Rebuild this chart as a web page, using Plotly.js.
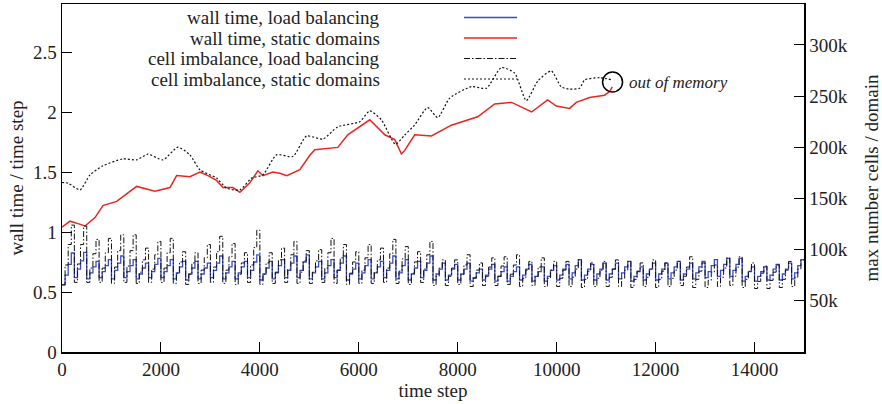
<!DOCTYPE html>
<html>
<head>
<meta charset="utf-8">
<script src="https://cdn.plot.ly/plotly-3.0.1.min.js"></script>
<style>html,body{margin:0;padding:0;background:#fff;}#chart{width:882px;height:404px;}</style>
</head>
<body>
<div id="chart"></div>
<script>
// ---------- data ----------
const seriesNames = [
  'wall time, load balancing',
  'wall time, static domains',
  'cell imbalance, load balancing',
  'cell imbalance, static domains'
];

// wall time, static domains (left axis)
const staticWallX = [0,162,323,465,667,828,1105,1293,1509,1879,2182,2317,2586,2788,2949,3125,3252,3454,3596,3798,3959,4060,4262,4404,4545,4808,5010,5111,5575,5777,6222,6525,6727,6862,6929,7131,7468,7872,8403,8747,9090,9494,9817,9993,10262,10397,10666,10969,11070,11124];
const staticWallY = [1.04,1.09,1.07,1.05,1.12,1.22,1.255,1.31,1.38,1.34,1.37,1.47,1.46,1.50,1.47,1.43,1.37,1.37,1.33,1.41,1.51,1.47,1.50,1.49,1.47,1.52,1.64,1.686,1.705,1.81,1.935,1.81,1.77,1.65,1.68,1.81,1.80,1.89,1.96,2.067,2.08,2.00,2.10,2.05,2.03,2.08,2.12,2.14,2.17,2.21];

// cell imbalance, static domains (right axis, thousands of cells)
const staticCellX = [0,121,364,566,828,1232,1509,1737,2040,2343,2586,2788,3125,3327,3596,3832,4060,4337,4666,4943,5272,5575,6020,6222,6458,6741,6929,7131,7393,7595,7838,8276,8579,8882,9151,9387,9621,9892,10093,10262,10464,10565,10868,11130];
const staticCellY = [165.6,165,158.4,173,181.9,188.7,187.7,193.3,187.7,200.1,192.6,178,169.9,160.1,158.4,169.9,173,192.6,191,211,208,220,225,235.6,226.8,203,212,222,238.8,229,248,259.3,257.7,277.9,272.4,245.6,264.9,274.6,259,256.8,257.7,265.8,268,265.8];

// load balancing: one row per 250-step balancing period, four stair levels each
const balancePeriod = 250;
const lbWall = [
  [0.56,0.64,0.73,0.825],[0.62,0.69,0.76,0.83],[0.61,0.66,0.71,0.755],[0.62,0.67,0.72,0.77],
  [0.61,0.68,0.74,0.80],[0.62,0.67,0.72,0.77],[0.61,0.65,0.70,0.74],[0.62,0.67,0.73,0.78],
  [0.62,0.67,0.72,0.77],[0.61,0.66,0.71,0.755],[0.60,0.65,0.70,0.755],[0.61,0.65,0.70,0.74],
  [0.62,0.68,0.74,0.80],[0.61,0.66,0.71,0.755],[0.61,0.66,0.71,0.755],[0.62,0.68,0.75,0.81],
  [0.60,0.65,0.70,0.755],[0.61,0.66,0.72,0.77],[0.62,0.68,0.74,0.80],[0.62,0.68,0.75,0.81],
  [0.61,0.66,0.71,0.755],[0.61,0.66,0.72,0.77],[0.62,0.68,0.74,0.80],[0.60,0.65,0.69,0.74],
  [0.61,0.66,0.72,0.77],[0.61,0.66,0.71,0.755],[0.62,0.68,0.74,0.80],[0.61,0.66,0.72,0.77],
  [0.60,0.65,0.70,0.755],[0.62,0.68,0.74,0.80],[0.60,0.65,0.69,0.74],[0.60,0.64,0.69,0.73],
  [0.60,0.65,0.69,0.74],[0.59,0.62,0.66,0.69],[0.60,0.64,0.69,0.73],[0.59,0.63,0.67,0.71],
  [0.59,0.63,0.67,0.71],[0.60,0.64,0.69,0.73],[0.59,0.63,0.67,0.71],[0.59,0.63,0.68,0.72],
  [0.60,0.64,0.69,0.73],[0.61,0.66,0.72,0.77],[0.60,0.64,0.69,0.73],[0.60,0.65,0.69,0.74],
  [0.60,0.65,0.69,0.74],[0.61,0.66,0.71,0.755],[0.59,0.63,0.67,0.71],[0.60,0.65,0.69,0.74],
  [0.60,0.65,0.69,0.74],[0.61,0.66,0.71,0.755],[0.60,0.65,0.69,0.74],[0.61,0.66,0.71,0.755],
  [0.62,0.67,0.72,0.77],[0.63,0.68,0.73,0.78],[0.63,0.68,0.73,0.78],[0.59,0.63,0.67,0.71],
  [0.59,0.63,0.67,0.71],[0.60,0.64,0.69,0.73],[0.60,0.65,0.69,0.74],[0.61,0.66,0.72,0.77]
];
const lbCells = [
  [65.7,85,105,124],[68,86,105,123],[68,82,96,110],[68,82,97,111],
  [67,83,99,114.5],[68,84,99,114.5],[67,78,90,101.5],[68,81,95,108],
  [68,82,97,111],[67,77,88,98],[66,76,87,97],[67,80,92,105],
  [68,83,98,113],[67,80,93,106],[66,76,87,97],[68,85,102,119],
  [66,76,87,97],[67,78,90,101.5],[68,81,95,108],[67,78,89,99],
  [67,78,89,100],[68,82,97,111],[67,80,92,105],[66,77,88,98],
  [67,80,92,105],[67,78,90,101.5],[68,82,96,110],[67,79,91,103],
  [66,77,88,98],[68,81,95,108],[65,74,82,90],[65,74,82,90],
  [66,76,85,95],[64,72,80,87],[65,74,83,92],[65,74,84,93],
  [66,76,85,95],[64,72,80,88.5],[65,74,83,92],[64,72,80,88.5],
  [64,72,80,88.5],[64,73,81,90],[63,71,79,87],[64,72,80,88.5],
  [64,73,81,90],[64,72,80,88.5],[63,71,79,87],[64,73,81,90],
  [63,71,79,87],[64,72,80,88.5],[65,74,83,93],[63,71,79,87],
  [63,70,78,85],[64,73,82,92],[65,74,83,93],[63,71,79,87],
  [62,69,77,84],[62,70,78,85],[63,71,80,88.5],[64,73,81,90]
];

const xTicks = [0,2000,4000,6000,8000,10000,12000,14000];
const xTickText = ['0','2000','4000','6000','8000','10000','12000','14000'];
const yTicks = [0,0.5,1,1.5,2,2.5];
const yTickText = ['0','0.5','1','1.5','2','2.5'];
const y2Ticks = [50,100,150,200,250,300];
const y2TickText = ['50k','100k','150k','200k','250k','300k'];
const oomStep = 11130, oomWall = 2.25;

// ---------- build ----------
function stairs(rows){
  const xs=[], ys=[];
  const n = rows[0].length;
  rows.forEach((r,p)=>r.forEach((v,k)=>{xs.push(p*balancePeriod + k*balancePeriod/n); ys.push(v);}));
  xs.push(rows.length*balancePeriod); ys.push(rows[rows.length-1][n-1]);
  return {xs, ys};
}
const lbW = stairs(lbWall), lbC = stairs(lbCells);

const BLUE='#3b4cc0', RED='#e8261e', BLK='#111111';
const DASHDOT='6px,2px,1.5px,2px', DOT='2px,2px';
const FONT='Liberation Serif, Times New Roman, serif';
const TXT='#222';

const traces = [
  {x: lbC.xs, y: lbC.ys, yaxis:'y2', mode:'lines', line:{shape:'hv', color:BLK, width:1, dash:DASHDOT}, name:seriesNames[2]},
  {x: lbW.xs, y: lbW.ys, mode:'lines', line:{shape:'hv', color:BLUE, width:1.3}, name:seriesNames[0]},
  {x: staticCellX, y: staticCellY, yaxis:'y2', mode:'lines', line:{color:BLK, width:1.2, dash:DOT, shape:'spline', smoothing:0.6}, name:seriesNames[3]},
  {x: staticWallX, y: staticWallY, mode:'lines', line:{color:RED, width:1.5}, name:seriesNames[1]}
];

const legendColors=[BLUE,RED,BLK,BLK], legendDash=['solid','solid',DASHDOT,DOT];
const rowPx=[17.5,38,58.5,79];
const rowY=rowPx.map(p=>(352-p)/348);
const annotations = seriesNames.map((t,i)=>({
  xref:'paper', yref:'paper', x:0.4313, y:rowY[i], xanchor:'right', yanchor:'middle',
  text:t, showarrow:false, font:{family:FONT, size:19, color:TXT}
}));
annotations.push({xref:'x', yref:'y', x:oomStep, y:oomWall, xanchor:'left', yanchor:'middle', xshift:14,
  text:'out of memory', showarrow:false, font:{family:FONT, size:17, style:'italic', color:TXT}});

const shapes = seriesNames.map((t,i)=>({
  type:'line', xref:'paper', yref:'paper', x0:0.5418, x1:0.6132, y0:rowY[i], y1:rowY[i],
  line:{color:legendColors[i], width: i<2?1.5:1.2, dash:legendDash[i]}
}));
shapes.push({type:'circle', xref:'x', yref:'y', xsizemode:'pixel', ysizemode:'pixel',
  xanchor:oomStep, yanchor:oomWall, x0:-10, x1:10, y0:-10, y1:10, line:{color:'#000', width:1.5}});

const tickFont={family:FONT, size:19, color:TXT};
const titleFont={family:FONT, size:19, color:TXT};
const layout = {
  width:882, height:404,
  margin:{l:62, r:78, t:4, b:52},
  paper_bgcolor:'#fff', plot_bgcolor:'#fff',
  showlegend:false,
  font:{family:FONT, color:TXT},
  xaxis:{range:[0,15000], tickvals:xTicks, ticktext:xTickText, ticks:'inside', ticklen:10, tickcolor:'#000',
    showline:true, linecolor:'#000', linewidth:1.5, mirror:true, showgrid:false, zeroline:false,
    tickfont:tickFont, title:{text:'time step', font:titleFont, standoff:4}},
  yaxis:{range:[0,2.9], tickvals:yTicks, ticktext:yTickText, ticks:'inside', ticklen:10, tickcolor:'#000',
    showline:true, linecolor:'#000', linewidth:1.5, showgrid:false, zeroline:false,
    tickfont:tickFont, title:{text:'wall time / time step', font:titleFont, standoff:4}},
  yaxis2:{range:[0,340], overlaying:'y', side:'right', tickvals:y2Ticks, ticktext:y2TickText,
    ticks:'inside', ticklen:10, tickcolor:'#000', showline:true, linecolor:'#000', linewidth:1.5,
    showgrid:false, zeroline:false, tickfont:tickFont,
    title:{text:'max number cells / domain', font:titleFont, standoff:22}},
  annotations, shapes
};
Plotly.newPlot('chart', traces, layout, {staticPlot:true, displayModeBar:false});
</script>
</body>
</html>
